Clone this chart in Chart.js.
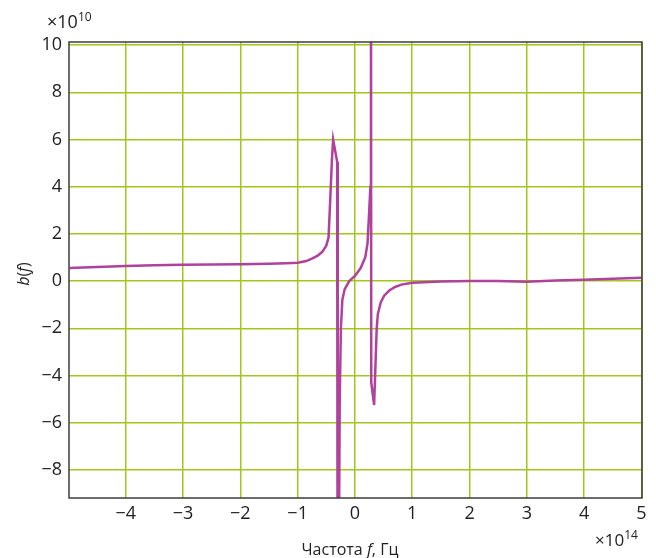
<!DOCTYPE html>
<html>
<head>
<meta charset="utf-8">
<script src="https://cdn.jsdelivr.net/npm/chart.js@4/dist/chart.umd.min.js"></script>
<style>
html,body{margin:0;padding:0;background:#fff;}
#wrap{width:656px;height:558px;position:relative;}
</style>
</head>
<body>
<div id="wrap"><canvas id="c" width="656" height="558"></canvas></div>
<script>
// Frequency (×1e14 Hz)
const freq = [-4.98,-4.5,-4.0,-3.5,-3.0,-2.5,-2.0,-1.5,-1.2,-1.0,-0.85,-0.75,-0.65,-0.57,-0.5,-0.46,-0.43,-0.40,-0.38,-0.31,-0.30,
  -0.265,-0.245,-0.22,-0.18,-0.10,0.0,0.10,0.18,0.22,0.25,0.27,0.28,
  0.285,0.335,0.38,0.40,0.45,0.51,0.60,0.70,0.81,1.0,1.5,2.0,2.5,3.0,3.5,4.0,4.5,5.0];
// b(f) (×1e10)
const bVals = [0.55,0.60,0.64,0.67,0.69,0.70,0.71,0.74,0.76,0.78,0.85,0.95,1.08,1.24,1.5,1.85,3.5,5.2,6.0,5.05,-20,
  -5.0,-2.0,-0.8,-0.35,0.0,0.22,0.55,1.0,1.6,3.0,4.0,15,
  -4.3,-5.25,-2.0,-1.4,-0.9,-0.62,-0.4,-0.25,-0.15,-0.07,-0.02,0.0,0.0,-0.03,0.02,0.06,0.1,0.14];
const xTicks = [-4,-3,-2,-1,0,1,2,3,4,5];
const yTicks = [-8,-6,-4,-2,0,2,4,6,8,10];

const FONT = "'Open Sans', sans-serif";
const fmt = v => (v < 0 ? '\u2212' + Math.abs(v) : String(v));

const textPlugin = {
  id: 'texts',
  afterDraw(chart) {
    const ctx = chart.ctx, a = chart.chartArea;
    ctx.save();
    // frame
    ctx.strokeStyle = '#3c3c3c';
    ctx.lineWidth = 1.5;
    ctx.strokeRect(a.left, a.top, a.right - a.left, a.bottom - a.top);
    ctx.fillStyle = '#222';
    ctx.textBaseline = 'alphabetic';
    // ×10^10
    ctx.font = '18px ' + FONT;
    ctx.textAlign = 'left';
    ctx.fillText('\u00d710', 47, 28);
    let w = ctx.measureText('\u00d710').width;
    ctx.font = '12px ' + FONT;
    ctx.fillText('10', 47 + w, 21);
    // ×10^14
    ctx.font = '17px ' + FONT;
    ctx.fillText('\u00d710', 595, 546);
    w = ctx.measureText('\u00d710').width;
    ctx.font = '12px ' + FONT;
    ctx.fillText('14', 595 + w, 539);
    // x title
    const parts = [['Частота ', 'normal'], ['f', 'italic'], [', Гц', 'normal']];
    let total = 0;
    parts.forEach(p => { ctx.font = p[1] + ' 16px ' + FONT; total += ctx.measureText(p[0]).width; });
    let x = 350 - total / 2;
    parts.forEach(p => { ctx.font = p[1] + ' 16px ' + FONT; ctx.fillText(p[0], x, 555); x += ctx.measureText(p[0]).width; });
    // y title
    ctx.translate(29, 274);
    ctx.rotate(-Math.PI / 2);
    const yp = [['b', 'italic'], ['(', 'normal'], ['f', 'italic'], [')', 'normal']];
    total = 0;
    yp.forEach(p => { ctx.font = p[1] + ' 16px ' + FONT; total += ctx.measureText(p[0]).width; });
    x = -total / 2;
    yp.forEach(p => { ctx.font = p[1] + ' 16px ' + FONT; ctx.fillText(p[0], x, 0); x += ctx.measureText(p[0]).width; });
    ctx.restore();
  }
};

new Chart(document.getElementById('c'), {
  type: 'line',
  data: {
    datasets: [{
      data: freq.map((f, i) => ({ x: f, y: bVals[i] })),
      borderColor: '#b0419c',
      borderWidth: 2.5,
      pointRadius: 0,
      tension: 0,
      fill: false
    }]
  },
  options: {
    responsive: false,
    animation: false,
    devicePixelRatio: 1,
    layout: { padding: { left: 0, right: 14, top: 42, bottom: 0 } },
    plugins: { legend: { display: false }, tooltip: { enabled: false } },
    scales: {
      x: {
        type: 'linear', min: -4.99, max: 5.01,
        afterBuildTicks: s => { s.ticks = xTicks.map(v => ({ value: v })); },
        afterFit: s => { s.height = 60; },
        grid: { color: '#a3c61c', lineWidth: 1.5, drawTicks: false },
        border: { display: false },
        ticks: { callback: v => fmt(v), color: '#222', font: { family: FONT, size: 18 }, padding: 5, maxRotation: 0 }
      },
      y: {
        type: 'linear', min: -9.19, max: 10.13,
        afterBuildTicks: s => { s.ticks = yTicks.map(v => ({ value: v })); },
        afterFit: s => { s.width = 69; },
        grid: { color: '#a3c61c', lineWidth: 1.5, drawTicks: false },
        border: { display: false },
        ticks: { callback: v => fmt(v), color: '#222', font: { family: FONT, size: 18 }, padding: 7 }
      }
    }
  },
  plugins: [textPlugin]
});
</script>
</body>
</html>
